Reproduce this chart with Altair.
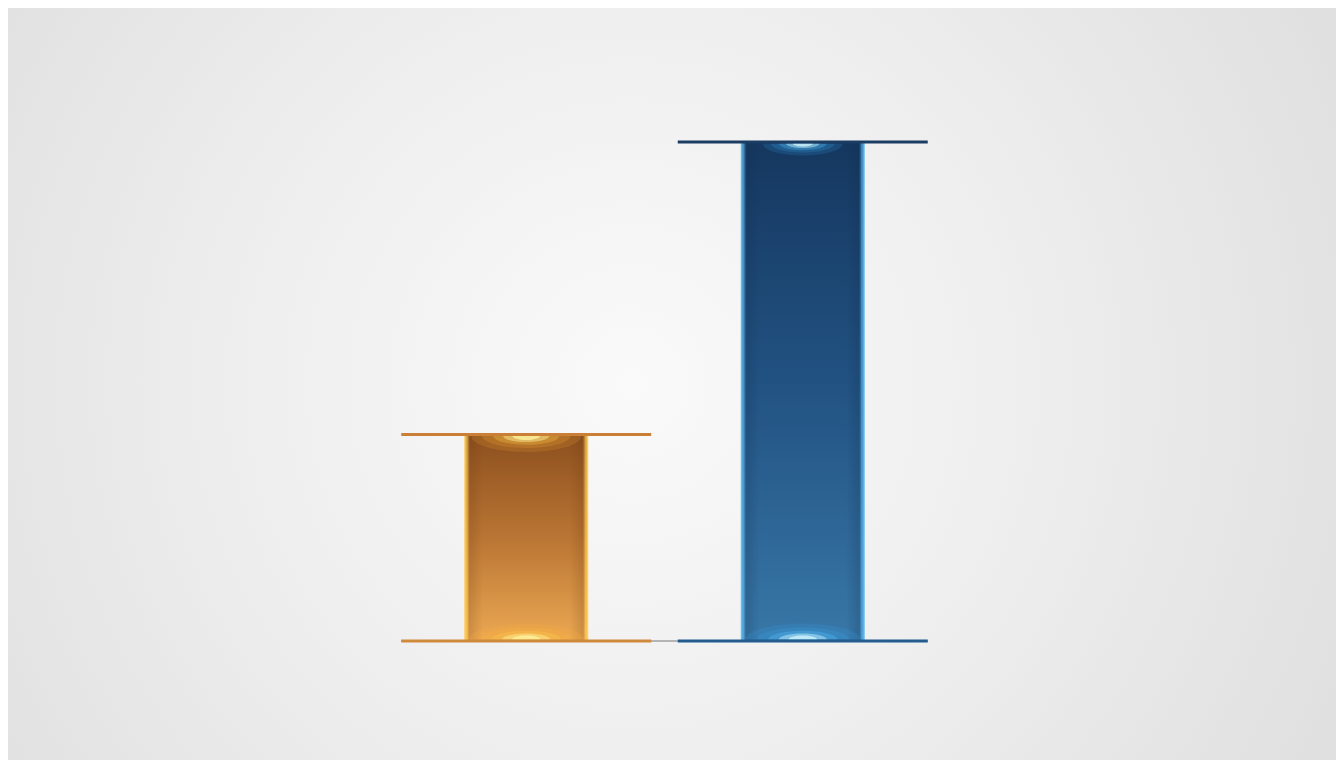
import altair as alt
import pandas as pd

categories = ["A", "B"]
values = [41.4, 100.0]
baseline = [0, 0]

df = pd.DataFrame({"cat": categories, "val": values, "base": baseline})

W, H = 527, 499
PL, PT = 393, 134
PR, PB = 1328 - PL - W, 752 - PT - H

x_enc = alt.X("cat:N", scale=alt.Scale(paddingInner=0.094, paddingOuter=0), axis=None)
y_scale = alt.Scale(domain=[0, 100], nice=False, zero=True)
y_val = alt.Y("val:Q", scale=y_scale, axis=None)
y_base = alt.Y("base:Q", scale=y_scale, axis=None)

bg = alt.Chart(alt.Data(values=[{"k": 1}])).mark_rect(
    fill={"gradient": "radial",
          "stops": [{"offset": 0, "color": "#fafafa"},
                    {"offset": 0.4, "color": "#eeeeee"},
                    {"offset": 1, "color": "#d8d8d8"}],
          "x1": 0.47, "y1": 0.5, "r1": 0, "x2": 0.47, "y2": 0.5, "r2": 0.75},
    opacity=1
).encode(x=alt.value(-PL), x2=alt.value(W + PR), y=alt.value(-PT), y2=alt.value(H + PB))

baseline_rule = alt.Chart(alt.Data(values=[{"k": 1}])).mark_rule(
    color="#b5b5b5", strokeWidth=2
).encode(x=alt.value(0), x2=alt.value(W), y=alt.value(H))

base = alt.Chart(df)

orange_grad = {"gradient": "linear", "x1": 0, "y1": 0, "x2": 0, "y2": 1,
               "stops": [{"offset": 0, "color": "#8c4f1e"},
                         {"offset": 0.5, "color": "#b97533"},
                         {"offset": 1, "color": "#eba853"}]}
blue_grad = {"gradient": "linear", "x1": 0, "y1": 0, "x2": 0, "y2": 1,
             "stops": [{"offset": 0, "color": "#15375f"},
                       {"offset": 0.5, "color": "#225383"},
                       {"offset": 1, "color": "#3877a7"}]}

def edge_grad(edge, shade):
    return {"gradient": "linear", "x1": 0, "y1": 0, "x2": 1, "y2": 0,
            "stops": [{"offset": 0, "color": edge + "f0"},
                      {"offset": 0.025, "color": edge + "a0"},
                      {"offset": 0.05, "color": shade + "30"},
                      {"offset": 0.15, "color": shade + "00"},
                      {"offset": 0.85, "color": shade + "00"},
                      {"offset": 0.95, "color": shade + "30"},
                      {"offset": 0.975, "color": edge + "a0"},
                      {"offset": 1, "color": edge + "f0"}]}

A = "datum.cat == 'A'"
B = "datum.cat == 'B'"

bar_o = base.transform_filter(A).mark_bar(size=122, fill=orange_grad).encode(
    x=x_enc, y=y_val, y2="base:Q")
bar_b = base.transform_filter(B).mark_bar(size=122, fill=blue_grad).encode(
    x=x_enc, y=y_val, y2="base:Q")
edge_o = base.transform_filter(A).mark_bar(size=124, fill=edge_grad("#ffcc55", "#6a3a10")).encode(
    x=x_enc, y=y_val, y2="base:Q")
edge_b = base.transform_filter(B).mark_bar(size=124, fill=edge_grad("#5cb8f0", "#0d2a4a")).encode(
    x=x_enc, y=y_val, y2="base:Q")

# glow = stack of flat half-ellipses with solid, semi-transparent fills
GLOW_STEPS = [(1.00, 1.00, 0.16, "out"), (0.80, 0.75, 0.20, "out"),
              (0.60, 0.55, 0.28, "mid"), (0.42, 0.38, 0.45, "in"),
              (0.25, 0.25, 0.75, "in")]

def glow_layers(flt, yenc, top, width, height, cols):
    layers = []
    for wf, hf, op, key in GLOW_STEPS:
        w = width * wf
        h = max(height * hf, 1.5)
        s = w / 2
        ry = h / s
        sweep = 0 if top else 1
        path = f"M-1,0 A1,{ry:.4f} 0 0,{sweep} 1,0 Z"
        layers.append(
            base.transform_filter(flt).mark_point(
                shape=path, size=w * w, filled=True, fill=cols[key],
                fillOpacity=op, opacity=1, strokeWidth=0,
                yOffset=1.5 if top else -1.5
            ).encode(x=x_enc, y=yenc)
        )
    return layers

o_cols = {"out": "#ffb43a", "mid": "#ffd050", "in": "#fff4a0"}
b_cols = {"out": "#3aa8f0", "mid": "#5cc8ff", "in": "#d0f6ff"}

glows = (
    glow_layers(A, y_val, True, 110, 16, o_cols)
    + glow_layers(A, y_base, False, 115, 16, o_cols)
    + glow_layers(B, y_val, True, 80, 12, b_cols)
    + glow_layers(B, y_base, False, 115, 16, b_cols)
)

cap_o_top = base.transform_filter(A).mark_tick(
    size=250, thickness=3, color="#c98036", opacity=1).encode(x=x_enc, y=y_val)
cap_o_bot = base.transform_filter(A).mark_tick(
    size=250, thickness=3, color="#cf8a3e", opacity=1).encode(x=x_enc, y=y_base)
cap_b_top = base.transform_filter(B).mark_tick(
    size=250, thickness=3, color="#1b3d63", opacity=1).encode(x=x_enc, y=y_val)
cap_b_bot = base.transform_filter(B).mark_tick(
    size=250, thickness=3, color="#235d8f", opacity=1).encode(x=x_enc, y=y_base)

chart = alt.layer(
    bg, baseline_rule, bar_o, bar_b, edge_o, edge_b,
    *glows,
    cap_o_top, cap_o_bot, cap_b_top, cap_b_bot
).properties(
    width=W, height=H,
    padding={"left": PL, "top": PT, "right": PR, "bottom": PB},
    autosize=alt.AutoSizeParams(type="none"),
    background="#e2e2e2"
).configure_view(stroke=None)

chart.save("out.html", embed_options={"renderer": "svg", "actions": False})
